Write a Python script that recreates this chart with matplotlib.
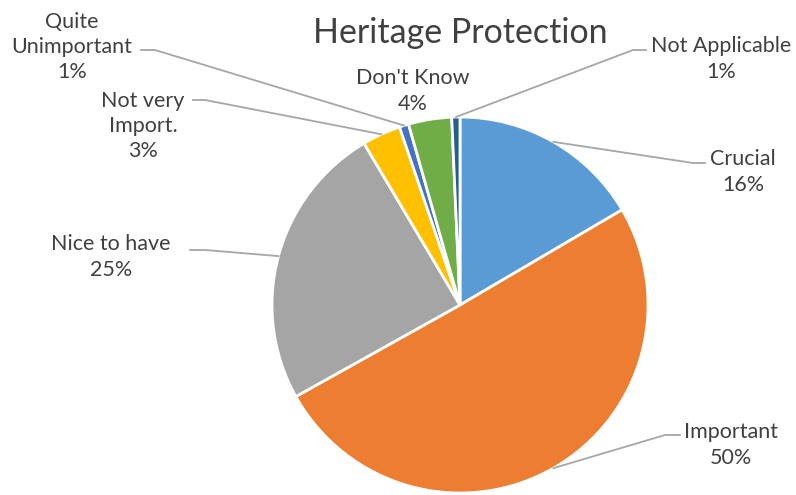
import matplotlib.pyplot as plt
import numpy as np
from matplotlib.lines import Line2D

categories = ["Crucial", "Important", "Nice to have", "Not very\nImport.",
              "Quite\nUnimportant", "Don't Know", "Not Applicable"]
shares = [16.5, 50.2, 24.5, 3.3, 0.8, 3.7, 0.7]
pct_labels = ["16%", "50%", "25%", "3%", "1%", "4%", "1%"]
colors = ["#5B9BD5", "#ED7D31", "#A5A5A5", "#FFC000", "#4472C4", "#70AD47", "#255E91"]

W, H = 796, 495
fig = plt.figure(figsize=(W / 100, H / 100), dpi=100)
plt.rcParams['font.family'] = ['Lato', 'DejaVu Sans']

# pie centre (460, 305) px, radius 188 px
cx, cy, r = 460, 305, 188
ax = fig.add_axes([(cx - r) / W, (H - cy - r) / H, 2 * r / W, 2 * r / H])
wedges, _ = ax.pie(shares, colors=colors, startangle=90, counterclock=False,
                   wedgeprops=dict(edgecolor="white", linewidth=2))
ax.set_xlim(-1, 1)
ax.set_ylim(-1, 1)
ax.set_aspect("equal")
ax.axis("off")


def px(x, y):
    return x / W, 1 - y / H


fig.text(*px(460, 33), "Heritage Protection", ha="center", va="center",
         fontsize=24.5, color="#404040")

txt_col = "#404040"
line_col = "#A6A6A6"

# label centre (px), elbow start x, elbow end x, elbow y
label_pos = [
    (743, 172, 705, 693, 163),
    (731, 445, 680, 665, 435),
    (111, 257, 190, 205, 250),
    (143, 126, 193, 205, 100),
    (72, 47, 141, 155, 50),
    (413, 91, None, None, None),
    (721, 59, 646, 633, 50),
]

for w, name, pct, (lx, ly, ex1, ex2, ey) in zip(wedges, categories, pct_labels, label_pos):
    fig.text(*px(lx, ly), name + "\n" + pct, ha="center", va="center",
             fontsize=15.5, color=txt_col, linespacing=1.32)
    if ex1 is None:
        continue
    mid = np.deg2rad((w.theta1 + w.theta2) / 2)
    xd, yd = ax.transData.transform((np.cos(mid), np.sin(mid)))
    xf, yf = fig.transFigure.inverted().transform((xd, yd))
    p1 = px(ex1, ey)
    p2 = px(ex2, ey)
    fig.add_artist(Line2D([p1[0], p2[0], xf], [p1[1], p2[1], yf],
                          color=line_col, lw=1.3))

fig.savefig("out.png", dpi=100)
